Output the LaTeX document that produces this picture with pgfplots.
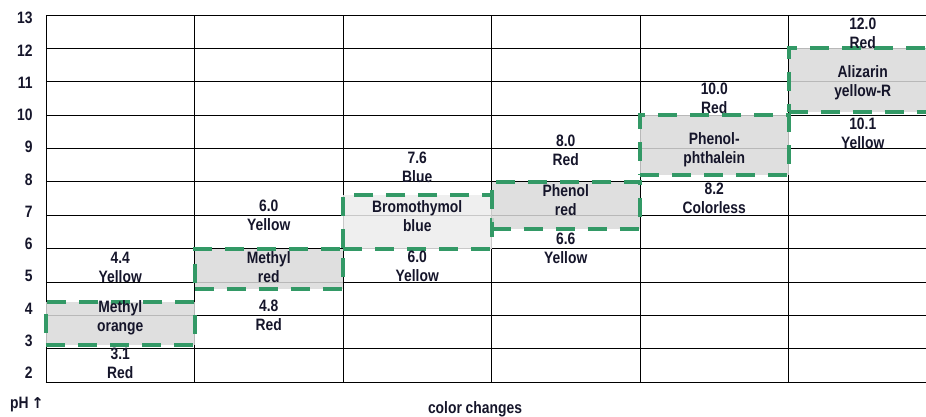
\documentclass[border=0pt]{standalone}
\usepackage{fontspec}
\setmainfont{Liberation Sans}[FakeStretch=0.84]
\newfontfamily\arrowfont{DejaVu Sans}
\usepackage{pgfplots}
\pgfplotsset{compat=1.18}
\definecolor{dgreen}{HTML}{339966}
\definecolor{txt}{HTML}{15152A}
\definecolor{boxgray}{HTML}{D9D9D9}
\definecolor{boxlight}{HTML}{ECECEC}
\tikzset{
  boxstyle/.style={draw=dgreen, line width=4pt, dash pattern=on 19pt off 13pt, fill opacity=0.85},
  lab/.style={align=center, text=txt, inner sep=0pt},
}
\begin{document}
\begin{tikzpicture}[font=\fontsize{16.5}{19}\selectfont\bfseries, x=1pt, y=1pt]
\useasboundingbox (-46,-35) rectangle (880,382);
\begin{axis}[
  at={(0,0)}, anchor=south west,
  scale only axis, width=880pt, height=367pt,
  xmin=0, xmax=5.926, ymin=2, ymax=13,
  axis x line=bottom, axis y line=left,
  axis line style={-, black, line width=0.8pt},
  xtick={0,...,5}, xticklabels={},
  ytick={2,...,13},
  major tick length=0,
  grid=major, major grid style={black, line width=0.8pt},
  clip=false,
  yticklabel style={anchor=east, xshift=-10pt, yshift={9pt-1.09pt*\ticknum}, text=txt},
  /pgf/number format/assume math mode=true,
]
% Methyl orange 3.1 - 4.4
\addplot[boxstyle, fill=boxgray] coordinates {(0,3.1) (1,3.1) (1,4.4) (0,4.4)} --cycle;
% Methyl red 4.8 - 6.0
\addplot[boxstyle, fill=boxgray] coordinates {(1,4.8) (2,4.8) (2,6.0) (1,6.0)} --cycle;
% Bromothymol blue 6.0 - 7.6
\addplot[boxstyle, fill=boxlight] coordinates {(2,6.0) (3,6.0) (3,7.6) (2,7.6)} --cycle;
% Phenol red 6.6 - 8.0
\addplot[boxstyle, fill=boxgray] coordinates {(3,6.6) (4,6.6) (4,8.0) (3,8.0)} --cycle;
% Phenolphthalein 8.2 - 10.0
\addplot[boxstyle, fill=boxgray] coordinates {(4,8.2) (5,8.2) (5,10.0) (4,10.0)} --cycle;
% Alizarin yellow-R 10.1 - 12.0
\addplot[boxstyle, fill=boxgray] coordinates {(5,10.1) (6,10.1) (6,12.0) (5,12.0)} --cycle;

% names
\node[lab] at (0.5,3.93) {Methyl\\orange};
\node[lab] at (1.5,5.43) {Methyl\\red};
\node[lab] at (2.5,6.97) {Bromothymol\\blue};
\node[lab] at (3.5,7.44) {Phenol\\red};
\node[lab] at (4.5,8.96) {Phenol-\\phthalein};
\node[lab] at (5.5,10.98) {Alizarin\\yellow-R};
% above
\node[lab] at (0.5,5.42) {4.4\\Yellow};
\node[lab] at (1.5,7.00) {6.0\\Yellow};
\node[lab] at (2.5,8.44) {7.6\\Blue};
\node[lab] at (3.5,8.94) {8.0\\Red};
\node[lab] at (4.5,10.50) {10.0\\Red};
\node[lab] at (5.5,12.45) {12.0\\Red};
% below
\node[lab] at (0.5,2.55) {3.1\\Red};
\node[lab] at (1.5,3.99) {4.8\\Red};
\node[lab] at (2.5,5.46) {6.0\\Yellow};
\node[lab] at (3.5,6.00) {6.6\\Yellow};
\node[lab] at (4.5,7.50) {8.2\\Colorless};
\node[lab] at (5.5,9.46) {10.1\\Yellow};
\end{axis}
\node[text=txt, anchor=west, inner sep=0pt] at (-36,-23) {pH\,{\arrowfont\fontsize{15}{15}\selectfont ↑}};
\node[text=txt, inner sep=0pt] at (429,-27) {color changes};
\end{tikzpicture}
\end{document}
